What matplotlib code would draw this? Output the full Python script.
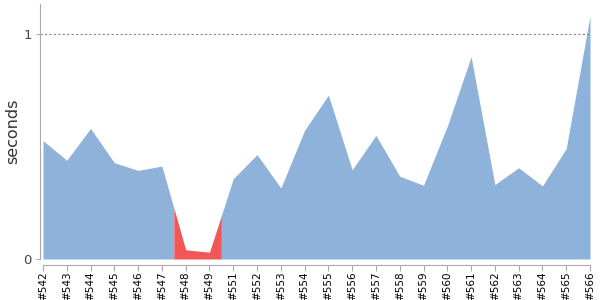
"""Build duration trend, recreated as a stacked area with failed builds in red."""
import numpy as np
import matplotlib

matplotlib.use("Agg")
import matplotlib.pyplot as plt

BUILDS = ["#542", "#543", "#544", "#545", "#546", "#547", "#548", "#549",
          "#551", "#552", "#553", "#554", "#555", "#556", "#557", "#558",
          "#559", "#560", "#561", "#562", "#563", "#564", "#565", "#566"]
DURATION = [0.525, 0.438, 0.579, 0.427, 0.393, 0.412, 0.041, 0.030,
            0.356, 0.463, 0.315, 0.571, 0.727, 0.396, 0.548, 0.367,
            0.327, 0.589, 0.897, 0.330, 0.405, 0.324, 0.490, 1.078]
FAILED = [False] * 6 + [True, True] + [False] * 16

BLUE = "#8fb2da"
RED = "#f25757"

plt.rcParams["font.family"] = "DejaVu Sans"

fig = plt.figure(figsize=(6, 3), dpi=100)
ax = fig.add_axes([40 / 600, 41 / 300, 550 / 600, 255 / 300])

# spine position first: set_position resets the tick labels
for side in ("top", "right"):
    ax.spines[side].set_visible(False)
ax.spines["left"].set_color("#aaaaaa")
ax.spines["bottom"].set_color("#aaaaaa")
ax.spines["bottom"].set_position(("outward", 4))

x = np.arange(len(BUILDS))
y = np.array(DURATION)
n = len(BUILDS)

# group consecutive builds of the same status; colour changes half way between builds
runs = []
start = 0
for i in range(1, n + 1):
    if i == n or FAILED[i] != FAILED[start]:
        runs.append((start, i - 1, FAILED[start]))
        start = i
for a, b, bad in runs:
    xs = [max(a - 0.5, 0)] + list(range(a, b + 1)) + [min(b + 0.5, n - 1)]
    xs = np.unique(xs)
    ys = np.interp(xs, x, y)
    ax.fill_between(xs, ys, 0, color=RED if bad else BLUE, lw=0)

ax.axhline(1, color="#888888", lw=0.8, ls=(0, (2, 2)))

ax.set_xlim(-0.126, n - 1)
ax.set_ylim(0, 1.131)
ax.spines["bottom"].set_bounds(0, n - 1)
ax.set_yticks([0, 1])
ax.set_yticklabels(["0", "1"], fontsize=9.5, color="#444444")
ax.set_xticks(x)
ax.set_xticklabels(BUILDS, rotation=90, fontsize=7.5, color="black")
ax.tick_params(axis="y", length=3, color="#aaaaaa", pad=3)
ax.tick_params(axis="x", length=4, color="#aaaaaa", pad=1)
ax.set_ylabel("seconds", fontsize=11.5, color="#333333")
ax.yaxis.set_label_coords(-20 / 550, 0.5)

fig.savefig("out.png", dpi=100, facecolor="white")
